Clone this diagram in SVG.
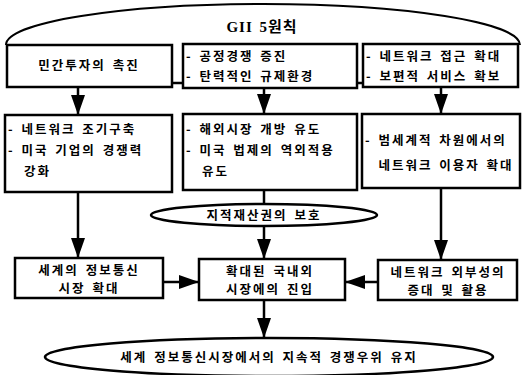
<svg xmlns="http://www.w3.org/2000/svg" width="522" height="375" viewBox="0 0 522 375">
<defs>
<marker id="ah" markerUnits="userSpaceOnUse" markerWidth="20" markerHeight="14" refX="20" refY="7" orient="auto">
<path d="M0,0 L20,7 L0,14 z" fill="#000"/>
</marker>
<style>
.b{fill:#fff;stroke:#000;stroke-width:2.5}
.t{font-family:"Noto Sans CJK KR","Noto Sans",sans-serif;font-size:12.5px;font-weight:bold;letter-spacing:2px;word-spacing:2px;fill:#000}
.c{text-anchor:middle}
.l{stroke:#000;stroke-width:2.5;fill:none}
.a{stroke:#000;stroke-width:2.5;fill:none;marker-end:url(#ah)}
</style>
</defs>
<rect width="522" height="375" fill="#fff"/>
<g id="principles">
<path class="l" d="M6,45 A257,41 0 0 1 520,45" style="stroke-width:2"/>
<text class="t c" x="262" y="32" style="font-size:15px;letter-spacing:1px;font-family:'Liberation Serif','Noto Sans CJK KR',serif">GII 5원칙</text>
</g>
<g id="connectors">
<path class="l" d="M172,83 H183 M357,83 H363"/>
<path class="a" d="M78,88 V115"/>
<path class="a" d="M264,88 V114"/>
<path class="a" d="M441,87 V114"/>
<path class="l" d="M264,190 V204"/>
<path class="a" d="M264,226 V259"/>
<path class="a" d="M78,192 V258"/>
<path class="a" d="M441,188 V260"/>
<path class="a" d="M163,282 H199"/>
<path class="a" d="M378,282 H345"/>
<path class="a" d="M264,300 V338"/>
</g>
<g id="n1">
<rect class="b" x="7" y="45" width="165" height="42"/>
<text class="t c" x="89" y="70">민간투자의 촉진</text>
</g>
<g id="n2">
<rect class="b" x="183" y="44" width="174" height="44"/>
<text class="t" x="186" y="61">- 공정경쟁 증진</text>
<text class="t" x="186" y="81">- 탄력적인 규제환경</text>
</g>
<g id="n3">
<rect class="b" x="363" y="44" width="155" height="43"/>
<text class="t" x="366" y="61">- 네트워크 접근 확대</text>
<text class="t" x="366" y="81">- 보편적 서비스 확보</text>
</g>
<g id="n4">
<rect class="b" x="5" y="115" width="167" height="77"/>
<text class="t" x="8" y="134">- 네트워크 조기구축</text>
<text class="t" x="8" y="155">- 미국 기업의 경쟁력</text>
<text class="t" x="24" y="176">강화</text>
</g>
<g id="n5">
<rect class="b" x="183" y="114" width="174" height="76"/>
<text class="t" x="186" y="134">- 해외시장 개방 유도</text>
<text class="t" x="186" y="155">- 미국 법제의 역외적용</text>
<text class="t" x="202" y="176">유도</text>
</g>
<g id="n6">
<rect class="b" x="362" y="114" width="158" height="74"/>
<text class="t" x="365" y="145">- 범세계적 차원에서의</text>
<text class="t c" x="446" y="170">네트워크 이용자 확대</text>
</g>
<g id="n7">
<ellipse class="b" cx="264" cy="215" rx="113" ry="11"/>
<text class="t c" x="264" y="220">지적재산권의 보호</text>
</g>
<g id="n8">
<rect class="b" x="15" y="258" width="148" height="40"/>
<text class="t c" x="89" y="275">세계의 정보통신</text>
<text class="t c" x="89" y="293">시장 확대</text>
</g>
<g id="n9">
<rect class="b" x="199" y="259" width="146" height="41"/>
<text class="t c" x="270" y="276">확대된 국내외</text>
<text class="t c" x="270" y="294">시장에의 진입</text>
</g>
<g id="n10">
<rect class="b" x="378" y="260" width="139" height="40"/>
<text class="t c" x="448" y="277">네트워크 외부성의</text>
<text class="t c" x="448" y="295">증대 및 활용</text>
</g>
<g id="n11">
<ellipse class="b" cx="269" cy="357" rx="224" ry="19"/>
<text class="t c" x="269" y="362">세계 정보통신시장에서의 지속적 경쟁우위 유지</text>
</g>
</svg>
